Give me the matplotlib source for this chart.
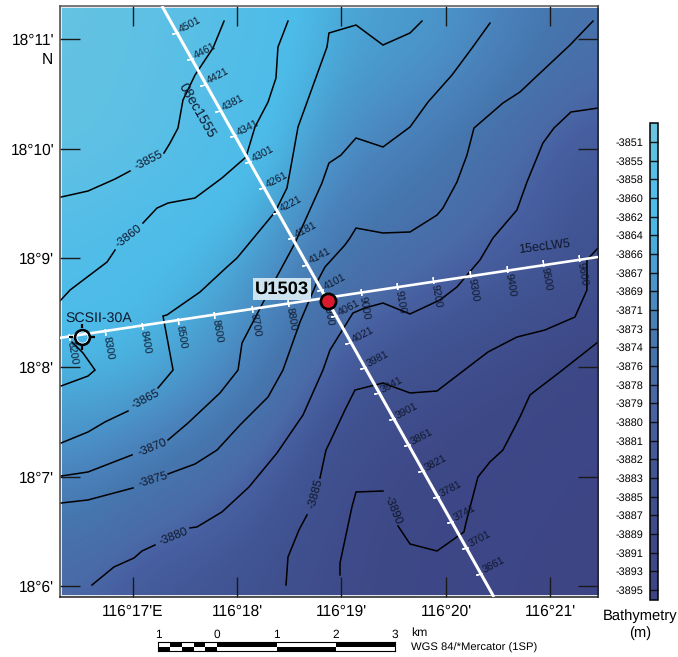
import numpy as np
import matplotlib.pyplot as plt
from matplotlib.colors import LinearSegmentedColormap, ListedColormap, BoundaryNorm, Normalize
from matplotlib.path import Path

plt.rcParams["font.family"] = ["Liberation Sans", "DejaVu Sans"]
plt.rcParams["text.hinting"] = "none"

grid_lon = [16.325, 17, 18, 19, 20, 21, 21.455]
grid_lat = [5.92, 7, 8, 9, 10, 11, 11.29]
depth_rows = [
    [-3878.5, -3882.5, -3884, -3888, -3892, -3895, -3896],
    [-3870, -3873.5, -3878.5, -3886.5, -3891, -3893, -3895],
    [-3864, -3863.5, -3870, -3881.5, -3885.5, -3889, -3892],
    [-3858, -3861, -3865, -3874.5, -3878.5, -3881.5, -3885],
    [-3851.5, -3853.5, -3859.5, -3869.5, -3873.5, -3880.3, -3882],
    [-3850.5, -3852.5, -3857, -3866, -3867.5, -3874, -3877],
    [-3850, -3852, -3856.5, -3866, -3868, -3873.5, -3875],
]

# contour polylines, (lon, lat), split where the label sits
c3855_a = [(16.316, 9.558), (16.574, 9.613), (16.833, 9.723), (16.976, 9.796)]
c3855_b = [(17.301, 9.961), (17.359, 10.052), (17.435, 10.189), (17.483, 10.446),
           (17.598, 10.674), (17.770, 10.921), (17.876, 11.168)]
c3860_a = [(16.306, 8.607), (16.402, 8.707), (16.756, 8.963), (16.833, 9.073)]
c3860_b = [(17.100, 9.320), (17.234, 9.457), (17.340, 9.503), (17.598, 9.549),
           (17.856, 9.732), (18.086, 9.924), (18.172, 10.199), (18.297, 10.427),
           (18.373, 10.647), (18.392, 10.930), (18.488, 11.168)]
c3865_small = [(16.316, 7.829), (16.574, 7.920), (16.641, 7.975), (16.526, 8.131), (16.421, 8.231)]
c3865_a = [(16.316, 7.307), (16.574, 7.408), (16.737, 7.500), (16.957, 7.600)]
c3865_b = [(17.244, 7.811), (17.388, 7.975), (17.292, 8.469), (17.330, 8.479),
           (17.646, 8.689), (17.904, 8.918), (18.000, 9.000), (18.364, 9.421),
           (18.478, 9.640), (18.536, 9.942), (18.584, 10.199), (18.861, 10.930),
           (18.880, 11.059), (19.139, 11.132), (19.397, 10.949), (19.656, 11.059),
           (19.770, 11.168)]
c3870_a = [(16.316, 7.005), (16.574, 7.042), (16.995, 7.198)]
c3870_b = [(17.340, 7.335), (17.531, 7.490), (17.837, 7.765), (18.010, 7.975),
           (18.048, 8.222), (18.297, 8.680), (18.555, 9.137), (18.813, 9.686),
           (18.880, 9.869), (18.995, 9.942), (19.139, 10.098), (19.397, 10.016),
           (19.656, 10.199), (19.828, 10.427), (20.057, 10.674), (20.249, 10.921),
           (20.421, 11.150)]
c3875_a = [(16.316, 6.758), (16.574, 6.786), (17.005, 6.896)]
c3875_b = [(17.340, 7.024), (17.598, 7.115), (17.809, 7.243), (18.029, 7.472),
           (18.297, 7.728), (18.440, 7.975), (18.603, 8.414), (18.766, 8.780),
           (18.842, 8.918), (19.033, 9.119), (19.081, 9.183), (19.139, 9.274),
           (19.397, 9.229), (19.656, 9.238), (19.914, 9.393), (19.971, 9.457),
           (20.105, 9.695), (20.201, 9.942), (20.268, 10.189), (20.545, 10.418),
           (20.708, 10.519), (20.880, 10.674), (21.187, 10.949), (21.407, 11.168)]
c3880_a = [(16.612, 6.008), (16.823, 6.173), (17.014, 6.255), (17.091, 6.319), (17.215, 6.374)]
c3880_b = [(17.550, 6.530), (17.617, 6.539), (17.856, 6.676), (18.115, 6.905),
           (18.383, 7.216), (18.632, 7.564), (18.823, 7.975), (18.890, 8.158),
           (19.110, 8.497), (19.225, 8.543), (19.397, 8.588), (19.656, 8.488),
           (19.943, 8.616), (20.105, 8.735), (20.325, 8.982), (20.450, 9.183),
           (20.679, 9.439), (20.775, 9.695), (20.928, 10.052), (21.033, 10.189),
           (21.196, 10.336), (21.455, 10.372)]
c3885_a = [(18.469, 6.008), (18.488, 6.264), (18.593, 6.511), (18.670, 6.649)]
c3885_b = [(18.794, 6.987), (18.852, 7.243), (18.890, 7.317), (19.033, 7.609),
           (19.129, 7.792), (19.397, 7.856), (19.656, 7.765), (19.914, 7.783),
           (20.402, 8.140), (20.679, 8.277), (20.947, 8.341), (21.234, 8.460),
           (21.349, 8.707), (21.349, 8.982), (21.455, 9.091)]
c3890_a = [(18.986, 6.100), (18.986, 6.210), (19.100, 6.722), (19.139, 6.859), (19.397, 6.868)]
c3890_b = [(19.541, 6.548), (19.656, 6.383), (19.914, 6.319), (20.172, 6.493),
           (20.191, 6.576), (20.306, 6.996), (20.421, 7.134), (20.545, 7.243),
           (20.708, 7.545), (20.804, 7.747), (21.091, 7.957), (21.455, 8.231)]
contours = [c3855_a, c3855_b, c3860_a, c3860_b, c3865_small, c3865_a, c3865_b,
            c3870_a, c3870_b, c3875_a, c3875_b, c3880_a, c3880_b, c3885_a, c3885_b,
            c3890_a, c3890_b]

contour_text = ["-3855", "-3860", "-3865", "-3870", "-3875", "-3880", "-3885", "-3890"]
contour_text_lon = [17.158, 16.957, 17.120, 17.187, 17.196, 17.388, 18.746, 19.493]
contour_text_lat = [9.897, 9.201, 7.710, 7.271, 6.978, 6.457, 6.841, 6.694]
contour_text_rot = [27, 38, 28, 22, 17, 22, 75, -68]

# seismic lines
line1_ends = [(17.282, 11.306), (20.459, 5.898)]
line1_shots = ["4501", "4461", "4421", "4381", "4341", "4301", "4261", "4221", "4181", "4141", "4101",
               "4061", "4021", "3981", "3941", "3901", "3861", "3821", "3781", "3741", "3701", "3661"]
line1_lon = [17.407, 17.550, 17.675, 17.818, 17.962, 18.105, 18.239, 18.373, 18.517, 18.651, 18.794,
             18.928, 19.062, 19.206, 19.340, 19.483, 19.627, 19.761, 19.904, 20.038, 20.182, 20.316]
line1_lat = [11.059, 10.821, 10.583, 10.345, 10.116, 9.878, 9.640, 9.412, 9.183, 8.936, 8.707,
             8.469, 8.222, 7.994, 7.765, 7.527, 7.289, 7.051, 6.813, 6.585, 6.347, 6.109]
line2_ends = [(16.297, 8.268), (21.455, 9.009)]
line2_shots = ["8200", "8300", "8400", "8500", "8600", "8700", "8800", "8900",
               "9000", "9100", "9200", "9300", "9400", "9500", "9600"]
line2_lon = [16.392, 16.737, 17.091, 17.435, 17.780, 18.144, 18.488, 18.842,
             19.187, 19.531, 19.876, 20.230, 20.584, 20.928, 21.273]
line2_lat = [8.277, 8.323, 8.378, 8.424, 8.479, 8.533, 8.588, 8.634,
             8.689, 8.744, 8.799, 8.854, 8.899, 8.954, 9.000]

site_lon, site_lat = 18.868, 8.607
scs_lon, scs_lat = 16.520, 8.280

# axis ticks
lon_ticks = [17, 18, 19, 20, 21]
lon_labels = ["116°17'E", "116°18'", "116°19'", "116°20'", "116°21'"]
lat_ticks = [6, 7, 8, 9, 10, 11]
lat_labels = ["18°6'", "18°7'", "18°8'", "18°9'", "18°10'", "18°11'"]

# colour scale
cbar_levels = [-3895, -3893, -3891, -3889, -3887, -3885, -3883, -3882, -3881, -3880, -3879, -3878,
               -3876, -3874, -3873, -3871, -3869, -3867, -3866, -3864, -3862, -3860, -3858, -3855, -3851]
stop_values = [-3897, -3889, -3883, -3880, -3878, -3874, -3871, -3867, -3864, -3862, -3858, -3851, -3849]
stop_colors = ["#3d4485", "#3e4988", "#415493", "#475fa0", "#4a6ba8", "#4676ae", "#4a83bc",
               "#4a9ccf", "#4bb2e0", "#4dbbe9", "#52bde8", "#63c2e3", "#6cc4df"]

# scale bar
bar_edges = [-1, -0.8, -0.6, -0.4, -0.2, 0, 1, 2, 3]
bar_top = ["white", "black", "white", "black", "white", "black", "white", "black"]
bar_bottom = ["black", "white", "black", "white", "black", "white", "black", "white"]
bar_ticks = [-1, 0, 1, 2, 3]
bar_tick_labels = ["1", "0", "1", "2", "3"]

W, H = 678, 657
fig = plt.figure(figsize=(6.78, 6.57), dpi=100)
ax = fig.add_axes([60 / W, 1 - 597 / H, 538 / W, 591 / H])
ax.set_facecolor("#e4e7ee")

vmin, vmax = stop_values[0], stop_values[-1]
pos = [(v - vmin) / (vmax - vmin) for v in stop_values]
cmap = LinearSegmentedColormap.from_list("bathy", list(zip(pos, stop_colors)), N=256)
norm = Normalize(vmin, vmax)


def soften(a, width=45):
    # box blur along the first axis, two passes, keeps the edges
    kernel = np.ones(width) / width
    for _ in range(2):
        padded = np.pad(a, ((width, width), (0, 0)), mode="edge")
        a = np.array([np.convolve(padded[:, j], kernel, mode="same") for j in range(a.shape[1])]).T[width:-width]
    return a


# fine mesh between the read nodes so the colours run smoothly
fine_lon = np.linspace(grid_lon[0], grid_lon[-1], 300)
fine_lat = np.linspace(grid_lat[0], grid_lat[-1], 300)
rows = np.array([np.interp(fine_lon, grid_lon, r) for r in depth_rows])
field = np.array([np.interp(fine_lat, grid_lat, rows[:, j]) for j in range(rows.shape[1])]).T
field = soften(soften(field).T).T
ax.imshow(field, origin="lower", extent=[grid_lon[0], grid_lon[-1], grid_lat[0], grid_lat[-1]],
          cmap=cmap, norm=norm, aspect="auto", interpolation="bilinear", zorder=1)

for c in contours:
    xs, ys = zip(*c)
    ax.plot(xs, ys, color="black", lw=1.1, zorder=2, solid_joinstyle="miter")

for t, x, y, r in zip(contour_text, contour_text_lon, contour_text_lat, contour_text_rot):
    ax.text(x, y, t, rotation=r, ha="center", va="center", fontsize=8.6, color="#10182c",
            rotation_mode="anchor", zorder=3)

# seismic line 1
xs, ys = zip(*line1_ends)
ax.plot(xs, ys, color="white", lw=2.2, zorder=4, solid_capstyle="butt")
ax.plot(line1_lon, line1_lat, ls="none", marker=(2, 2, -78), ms=4.6, mec="white", mew=0.9, zorder=4)
for s, x, y in zip(line1_shots, line1_lon, line1_lat):
    ax.annotate(s, (x, y), xytext=(3, 2.2), textcoords="offset points", rotation=28, ha="left",
                va="center", rotation_mode="anchor", fontsize=7.7, color="#10182c", zorder=5)

# seismic line 2
xs, ys = zip(*line2_ends)
ax.plot(xs, ys, color="white", lw=1.9, zorder=4, solid_capstyle="butt")
ax.plot(line2_lon, line2_lat, ls="none", marker=(2, 2, 8), ms=4.6, mec="white", mew=0.9, zorder=4)
for s, x, y in zip(line2_shots, line2_lon, line2_lat):
    ax.annotate(s, (x, y), xytext=(1, -3), textcoords="offset points", rotation=-80, ha="left",
                va="center", rotation_mode="anchor", fontsize=7.7, color="#10182c", zorder=3)

ax.text(17.618, 10.345, "08ec1555", rotation=-60, ha="center", va="center", fontsize=10,
        color="#10182c", rotation_mode="anchor", zorder=3)
ax.text(20.938, 9.101, "15ecLW5", rotation=7, ha="center", va="center", fontsize=9,
        color="#10182c", rotation_mode="anchor", zorder=3)

# site markers
ax.plot(site_lon, site_lat, "o", ms=11, mfc="#d8192e", mec="black", mew=1.9, zorder=7)
ax.annotate("U1503", (site_lon, site_lat), xytext=(-33, 8.6), textcoords="offset points", ha="center",
            va="center", fontsize=13.2, fontweight="bold", color="black", zorder=8,
            bbox=dict(boxstyle="square,pad=0.12", fc="#cde3f0", ec="none"))

cross = Path([(-1, 0), (-0.68, 0), (0.68, 0), (1, 0), (0, -1), (0, -0.68), (0, 0.68), (0, 1)],
             [Path.MOVETO, Path.LINETO] * 4)
ax.plot(scs_lon, scs_lat, marker=cross, ms=18.5, mec="black", mew=1.6, ls="none", zorder=7)
ax.plot(scs_lon, scs_lat, "o", ms=10.6, mfc="none", mec="black", mew=1.9, zorder=7)
ax.plot(scs_lon, scs_lat, "o", ms=8, mfc="none", mec="white", mew=0.5, zorder=7)
ax.annotate("SCSII-30A", (scs_lon, scs_lat), xytext=(11.8, 13.4), textcoords="offset points", ha="center",
            va="center", fontsize=10.2, color="#10182c", zorder=8)

ax.set_xlim(16.306, 21.455)
ax.set_ylim(5.898, 11.306)
ax.set_xticks(lon_ticks, lon_labels, fontsize=11.2)
ax.set_yticks(lat_ticks, lat_labels, fontsize=11.2)
ax.tick_params(axis="both", direction="in", length=14.4, width=1, color="#1a1a1a", top=True, right=True,
               zorder=6)
ax.tick_params(axis="x", pad=5)
ax.tick_params(axis="y", pad=4.2)
for side in ax.spines:
    ax.spines[side].set_linewidth(1.1)
    ax.spines[side].set_color("#222222")
ax.spines["top"].set_color("#555555")
ax.spines["left"].set_color("#444444")

fig.text(53 / W, 1 - 60 / H, "N", ha="right", va="center", fontsize=11.2)

# colour bar
cbar_mid = [cbar_levels[0] - 1] + [(a + b) / 2 for a, b in zip(cbar_levels, cbar_levels[1:])] + [cbar_levels[-1] + 1.5]
cbar_map = ListedColormap([cmap(norm(v)) for v in cbar_mid])
cbar_norm = BoundaryNorm(cbar_levels, ncolors=cbar_map.N, extend="both")
cax = fig.add_axes([650 / W, 1 - 600 / H, 8 / W, 477 / H])
sm = plt.cm.ScalarMappable(norm=cbar_norm, cmap=cbar_map)
cb = fig.colorbar(sm, cax=cax, ticks=cbar_levels, spacing="uniform", extend="both", extendrect=True,
                  extendfrac=[10 / 448, 19 / 448], drawedges=True)
cb.ax.yaxis.set_ticks_position("left")
cb.ax.set_yticklabels([str(v) for v in cbar_levels])
cb.ax.tick_params(length=0, labelsize=7.8, pad=5)
cb.ax.minorticks_off()
cb.outline.set_linewidth(1.1)
cb.dividers.set_linewidth(1)
cb.dividers.set_color("#111111")
fig.text(640.5 / W, 1 - 616 / H, "Bathymetry", ha="center", va="center", fontsize=10.6)
fig.text(640.5 / W, 1 - 633 / H, "(m)", ha="center", va="center", fontsize=10.6)

# scale bar
sax = fig.add_axes([158 / W, 1 - 651 / H, 237 / W, 9 / H])
for i in range(len(bar_top)):
    sax.barh(1.5, bar_edges[i + 1] - bar_edges[i], left=bar_edges[i], height=1, color=bar_top[i])
    sax.barh(0.5, bar_edges[i + 1] - bar_edges[i], left=bar_edges[i], height=1, color=bar_bottom[i])
sax.set_xlim(bar_edges[0], bar_edges[-1])
sax.set_ylim(0, 2)
sax.set_yticks([])
sax.xaxis.tick_top()
sax.set_xticks(bar_ticks, bar_tick_labels, fontsize=8.6)
sax.tick_params(axis="x", length=0, pad=1)
for side in sax.spines:
    sax.spines[side].set_linewidth(0.8)
fig.text(411 / W, 1 - 633 / H, "km", ha="left", va="center", fontsize=8.8)
fig.text(411 / W, 1 - 648 / H, "WGS 84/*Mercator (1SP)", ha="left", va="center", fontsize=8.1)

fig.savefig("out.png", dpi=100)
